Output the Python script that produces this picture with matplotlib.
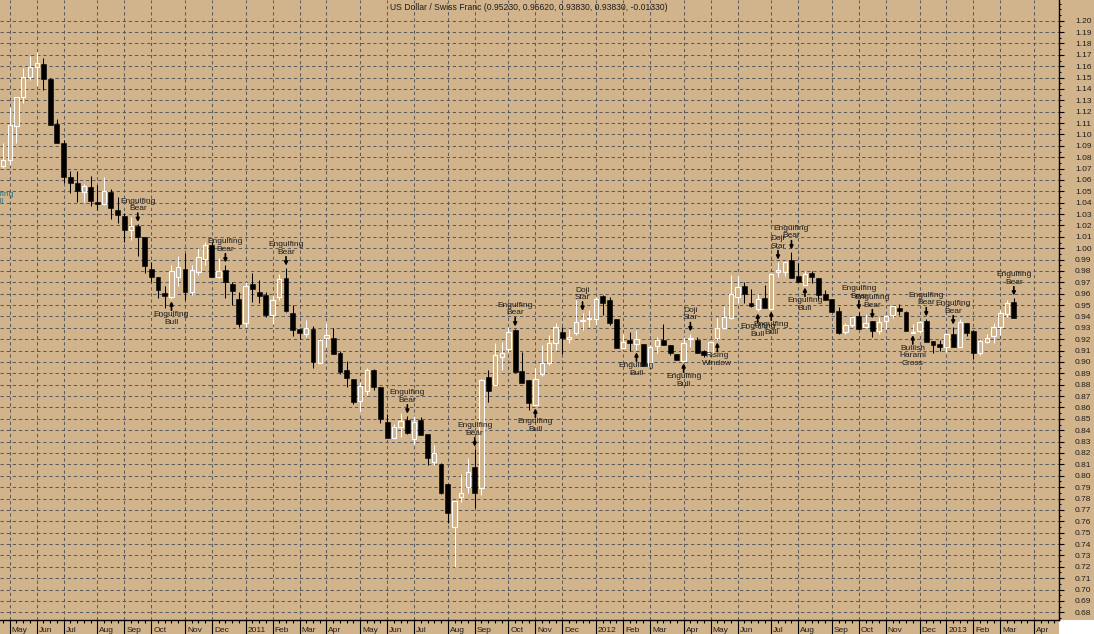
import numpy as np
import pandas as pd
import matplotlib
matplotlib.use('Agg')
import matplotlib.pyplot as plt
from matplotlib.patches import Rectangle
from matplotlib.transforms import ScaledTranslation

plt.rcParams['font.family'] = ['Liberation Sans', 'DejaVu Sans']
plt.rcParams['lines.scale_dashes'] = False

# weekly USD/CHF bars, week ending Friday
first_week = '2010-04-30'

opens = [1.0723, 1.0776, 1.1075, 1.1330, 1.1505, 1.1594, 1.1619, 1.1486, 1.1090, 1.0923,
         1.0626, 1.0573, 1.0495, 1.0537, 1.0406, 1.0389, 1.0494, 1.0335, 1.0283, 1.0161,
         1.0194, 1.0098, 0.9817, 0.9747, 0.9610, 0.9573, 0.9747, 0.9817, 0.9616, 0.9792,
         0.9906, 1.0027, 0.9747, 0.9808, 0.9685, 0.9553, 0.9344, 0.9685, 0.9615, 0.9588,
         0.9414, 0.9572, 0.9737, 0.9430, 0.9290, 0.9247, 0.9289, 0.8993, 0.9212, 0.9211,
         0.9079, 0.8929, 0.8850, 0.8658, 0.8746, 0.8929, 0.8779, 0.8471, 0.8332, 0.8428,
         0.8489, 0.8323, 0.8489, 0.8366, 0.8122, 0.8102, 0.7927, 0.7551, 0.7813, 0.7902,
         0.8076, 0.7893, 0.8868, 0.8799, 0.9045, 0.9115, 0.9281, 0.8921, 0.8841, 0.8623,
         0.8896, 0.8993, 0.9168, 0.9264, 0.9203, 0.9256, 0.9360, 0.9378, 0.9379, 0.9580,
         0.9545, 0.9378, 0.9124, 0.9193, 0.9159, 0.9159, 0.8966, 0.9141, 0.9193, 0.9150,
         0.9070, 0.9010, 0.9203, 0.9193, 0.9098, 0.9080, 0.9212, 0.9298, 0.9387, 0.9572,
         0.9668, 0.9518, 0.9466, 0.9562, 0.9467, 0.9791, 0.9792, 0.9896, 0.9756, 0.9677,
         0.9781, 0.9737, 0.9598, 0.9553, 0.9448, 0.9264, 0.9325, 0.9404, 0.9308, 0.9360,
         0.9273, 0.9360, 0.9414, 0.9474, 0.9438, 0.9258, 0.9273, 0.9360, 0.9185, 0.9159,
         0.9132, 0.9246, 0.9133, 0.9343, 0.9272, 0.9080, 0.9177, 0.9229, 0.9308, 0.9422,
         0.9523]
highs = [1.0923, 1.1239, 1.1331, 1.1583, 1.1694, 1.1724, 1.1671, 1.1492, 1.1135, 1.0948,
         1.0677, 1.0677, 1.0562, 1.0633, 1.0555, 1.0625, 1.0520, 1.0449, 1.0310, 1.0275,
         1.0209, 1.0098, 0.9881, 0.9747, 0.9668, 0.9852, 0.9931, 0.9957, 0.9852, 1.0002,
         1.0053, 1.0052, 0.9913, 0.9852, 0.9702, 0.9614, 0.9701, 0.9780, 0.9720, 0.9614,
         0.9589, 0.9772, 0.9825, 0.9500, 0.9290, 0.9368, 0.9315, 0.9202, 0.9343, 0.9297,
         0.9096, 0.9008, 0.8850, 0.8824, 0.8947, 0.8938, 0.8779, 0.8541, 0.8451, 0.8551,
         0.8524, 0.8524, 0.8516, 0.8366, 0.8270, 0.8108, 0.7927, 0.7778, 0.8014, 0.8155,
         0.8233, 0.8850, 0.8928, 0.9166, 0.9177, 0.9307, 0.9290, 0.9087, 0.8845, 0.8954,
         0.9149, 0.9237, 0.9343, 0.9308, 0.9290, 0.9543, 0.9428, 0.9456, 0.9571, 0.9589,
         0.9569, 0.9378, 0.9246, 0.9263, 0.9281, 0.9159, 0.9149, 0.9220, 0.9333, 0.9150,
         0.9070, 0.9220, 0.9247, 0.9220, 0.9107, 0.9177, 0.9386, 0.9491, 0.9763, 0.9764,
         0.9702, 0.9641, 0.9597, 0.9675, 0.9781, 0.9878, 0.9887, 0.9967, 0.9869, 0.9799,
         0.9799, 0.9737, 0.9630, 0.9553, 0.9483, 0.9343, 0.9404, 0.9438, 0.9421, 0.9360,
         0.9395, 0.9413, 0.9492, 0.9509, 0.9448, 0.9334, 0.9360, 0.9378, 0.9185, 0.9193,
         0.9246, 0.9307, 0.9378, 0.9343, 0.9277, 0.9202, 0.9246, 0.9343, 0.9456, 0.9545,
         0.9562]
lows = [1.0708, 1.0732, 1.0926, 1.1277, 1.1479, 1.1424, 1.1392, 1.1082, 1.0925, 1.0574,
        1.0487, 1.0407, 1.0407, 1.0372, 1.0336, 1.0381, 1.0256, 1.0222, 1.0059, 1.0075,
        0.9934, 0.9783, 0.9703, 0.9564, 0.9476, 0.9555, 0.9669, 0.9547, 0.9591, 0.9762,
        0.9853, 0.9748, 0.9738, 0.9564, 0.9502, 0.9309, 0.9309, 0.9528, 0.9520, 0.9396,
        0.9335, 0.9546, 0.9440, 0.9229, 0.9203, 0.9218, 0.8949, 0.8993, 0.9133, 0.9071,
        0.8896, 0.8781, 0.8632, 0.8562, 0.8712, 0.8755, 0.8465, 0.8332, 0.8332, 0.8341,
        0.8371, 0.8280, 0.8358, 0.8096, 0.8096, 0.7838, 0.7587, 0.7202, 0.7770, 0.7849,
        0.7718, 0.7832, 0.8649, 0.8799, 0.8931, 0.9089, 0.8914, 0.8816, 0.8580, 0.8614,
        0.8878, 0.8977, 0.9108, 0.9072, 0.9168, 0.9238, 0.9282, 0.9308, 0.9326, 0.9415,
        0.9326, 0.9125, 0.9117, 0.9097, 0.9107, 0.8967, 0.8966, 0.9080, 0.9150, 0.9063,
        0.9018, 0.9010, 0.9133, 0.9080, 0.9047, 0.9071, 0.9194, 0.9290, 0.9379, 0.9519,
        0.9519, 0.9479, 0.9449, 0.9475, 0.9467, 0.9747, 0.9757, 0.9739, 0.9703, 0.9677,
        0.9695, 0.9546, 0.9546, 0.9440, 0.9248, 0.9248, 0.9308, 0.9290, 0.9308, 0.9221,
        0.9248, 0.9290, 0.9389, 0.9414, 0.9273, 0.9258, 0.9256, 0.9178, 0.9080, 0.9097,
        0.9089, 0.9132, 0.9133, 0.9229, 0.9027, 0.9063, 0.9167, 0.9168, 0.9238, 0.9396,
        0.9383]
closes = [1.0775, 1.1081, 1.1328, 1.1504, 1.1594, 1.1628, 1.1488, 1.1084, 1.0925, 1.0627,
          1.0573, 1.0504, 1.0547, 1.0416, 1.0389, 1.0503, 1.0354, 1.0292, 1.0161, 1.0196,
          1.0099, 0.9845, 0.9747, 0.9634, 0.9580, 0.9799, 0.9834, 0.9616, 0.9808, 0.9922,
          1.0028, 0.9748, 0.9799, 0.9703, 0.9624, 0.9335, 0.9667, 0.9641, 0.9580, 0.9414,
          0.9545, 0.9729, 0.9450, 0.9282, 0.9256, 0.9298, 0.9001, 0.9193, 0.9238, 0.9071,
          0.8913, 0.8860, 0.8649, 0.8789, 0.8929, 0.8781, 0.8500, 0.8332, 0.8428, 0.8481,
          0.8376, 0.8471, 0.8358, 0.8157, 0.8200, 0.7849, 0.7674, 0.7778, 0.7848, 0.8032,
          0.7849, 0.8842, 0.8745, 0.9062, 0.9080, 0.9263, 0.8914, 0.8816, 0.8641, 0.8850,
          0.8992, 0.9167, 0.9308, 0.9212, 0.9221, 0.9352, 0.9368, 0.9388, 0.9553, 0.9519,
          0.9344, 0.9125, 0.9177, 0.9167, 0.9202, 0.8967, 0.9131, 0.9193, 0.9150, 0.9080,
          0.9018, 0.9167, 0.9208, 0.9080, 0.9063, 0.9177, 0.9298, 0.9395, 0.9597, 0.9659,
          0.9598, 0.9492, 0.9553, 0.9475, 0.9772, 0.9808, 0.9879, 0.9739, 0.9703, 0.9773,
          0.9747, 0.9589, 0.9546, 0.9440, 0.9256, 0.9325, 0.9395, 0.9290, 0.9343, 0.9273,
          0.9352, 0.9404, 0.9492, 0.9449, 0.9273, 0.9268, 0.9352, 0.9178, 0.9150, 0.9132,
          0.9246, 0.9132, 0.9352, 0.9256, 0.9080, 0.9185, 0.9211, 0.9308, 0.9430, 0.9518,
          0.9383]

# (bar index, label, kind) - kind 'bear' = arrow above, 'bull' = arrow below
patterns = [
    (20, 'Engulfing\nBear', 'bear'), (25, 'Engulfing\nBull', 'bull'),
    (33, 'Engulfing\nBear', 'bear'), (42, 'Engulfing\nBear', 'bear'),
    (60, 'Engulfing\nBear', 'bear'), (70, 'Engulfing\nBear', 'bear'),
    (76, 'Engulfing\nBear', 'bear'), (79, 'Engulfing\nBull', 'bull'),
    (86, 'Doji\nStar', 'bear'), (94, 'Engulfing\nBull', 'bull'),
    (101, 'Engulfing\nBull', 'bull'), (102, 'Doji\nStar', 'bear'),
    (106, 'Rising\nWindow', 'bull'), (112, 'Engulfing\nBull', 'bull'),
    (114, 'Engulfing\nBull', 'bull'), (115, 'Doji\nStar', 'bear'),
    (117, 'Engulfing\nBear', 'bear'), (119, 'Engulfing\nBull', 'bull'),
    (127, 'Engulfing\nBear', 'bear'), (129, 'Engulfing\nBear', 'bear'),
    (135, 'Bullish\nHarami\nCross', 'bull'), (137, 'Engulfing\nBear', 'bear'),
    (141, 'Engulfing\nBear', 'bear'), (150, 'Engulfing\nBear', 'bear'),
]

title = 'US Dollar / Swiss Franc (0.95230, 0.95620, 0.93830, 0.93830, -0.01330)'

bg = '#D2B48C'
W, H = 1094, 634

o = np.array(opens)
h = np.array(highs)
l = np.array(lows)
c = np.array(closes)
x = np.arange(len(c))
up = c >= o

fig = plt.figure(figsize=(W / 100, H / 100), dpi=100, facecolor=bg)
ax = fig.add_axes([0, 14 / H, 1059 / W, 620 / H])
ax.set_facecolor(bg)
fig.add_artist(Rectangle((1059 / W, 0), 1 - 1059 / W, 14 / H, transform=fig.transFigure,
                         facecolor='white', edgecolor='none', zorder=-1))

# candles
ax.vlines(x[up], l[up], h[up], color='white', lw=0.75, zorder=3)
ax.vlines(x[~up], l[~up], h[~up], color='black', lw=0.75, zorder=3)
body_bot = np.minimum(o, c)
body_h = np.maximum(np.abs(c - o), 0.0003)
ax.bar(x[up], body_h[up], bottom=body_bot[up], width=0.64, facecolor=bg,
       edgecolor='white', lw=0.8, zorder=4)
ax.bar(x[~up], body_h[~up], bottom=body_bot[~up], width=0.72, color='black',
       edgecolor='black', lw=0.4, zorder=4)

# pattern labels
txt_kw = dict(fontsize=6, color='#1c1c1c', ha='center', linespacing=1.05,
              textcoords='offset points', zorder=6)
arr_kw = dict(arrowstyle='-|>', color='black', lw=1.2, shrinkA=0, shrinkB=1.8,
              mutation_scale=5)
for i, label, kind in patterns:
    if kind == 'bear':
        ax.annotate('', xy=(i, h[i]), xytext=(0, 8.2), textcoords='offset points',
                    arrowprops=arr_kw, zorder=6)
        ax.annotate(label, xy=(i, h[i]), xytext=(0, 9.0), va='bottom', **txt_kw)
    else:
        ax.annotate('', xy=(i, l[i]), xytext=(0, -8.2), textcoords='offset points',
                    arrowprops=arr_kw, zorder=6)
        ax.annotate(label, xy=(i, l[i]), xytext=(0, -9.0), va='top', **txt_kw)
# label of a pattern from a bar left of the visible range
ax.text(-1.0, 1.0505, 'Engulfing\nBull', fontsize=6, color='#2b7184', ha='center',
        va='top', linespacing=1.05, clip_on=True)

ax.set_xlim(-0.445, 156.7)
ax.set_ylim(0.6732, 1.2182)

# month ticks at the first bar of each month
dates = pd.date_range(first_week, periods=157, freq='W-FRI')
month_idx = [i for i in range(1, len(dates)) if dates[i].month != dates[i - 1].month]
month_lab = [str(dates[i].year) if dates[i].month == 1 else dates[i].strftime('%b')
             for i in month_idx]
ax.set_xticks(month_idx)
ax.set_xticklabels([])
ax.set_xticks(np.arange(0, 157), minor=True)
ax.tick_params(axis='x', which='major', length=10, width=0.8, color='black', direction='out')
ax.tick_params(axis='x', which='minor', length=2.4, width=0.8, color='black', direction='out')
lab_tr = ax.get_xaxis_transform() + ScaledTranslation(2 / 100, -12.5 / 100, fig.dpi_scale_trans)
for i, s in zip(month_idx, month_lab):
    ax.text(i, 0, s, transform=lab_tr, ha='left', va='baseline', fontsize=6,
            color='#1c1c1c', clip_on=False)

yt = np.round(np.arange(0.68, 1.2001, 0.01), 2)
ax.yaxis.tick_right()
ax.set_yticks(yt)
ax.set_yticklabels([f'{v:.2f}' for v in yt])
ax.set_yticks(np.round(np.arange(0.675, 1.2151, 0.005), 3), minor=True)
ax.tick_params(axis='y', which='major', length=3.6, width=0.8, pad=8, labelsize=6,
               labelcolor='#1c1c1c', direction='out')
ax.tick_params(axis='y', which='minor', length=1.6, width=0.8, direction='out')

ax.grid(True, which='major', color='#5c5c5c', lw=0.75, linestyle=(0, (2.4, 2.0)))
ax.set_axisbelow(True)

for side in ('top', 'left'):
    ax.spines[side].set_visible(False)
for side in ('right', 'bottom'):
    ax.spines[side].set_color('black')
    ax.spines[side].set_linewidth(1.0)

fig.text(529 / W, 1 - 7 / H, title, ha='center', va='center', fontsize=6.2, color='#1c1c1c')

fig.savefig('out.png', dpi=100, facecolor=bg)
